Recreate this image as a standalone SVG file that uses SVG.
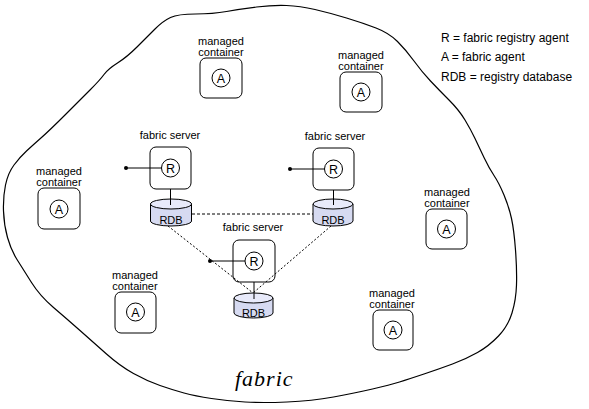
<svg xmlns="http://www.w3.org/2000/svg" width="589" height="409" viewBox="0 0 589 409">
<style>
.t{font-family:"Liberation Sans",Arial,sans-serif;font-size:11px;fill:#000;text-anchor:middle}
.lg{font-family:"Liberation Sans",Arial,sans-serif;font-size:12px;fill:#000}
.box{fill:none;stroke:#000;stroke-width:1}
.cir{fill:none;stroke:#000;stroke-width:1}
.ln{stroke:#000;stroke-width:1;fill:none}
.dash{stroke:#000;stroke-width:1;fill:none;stroke-dasharray:3,2}
.dot{stroke:#000;stroke-width:1;fill:none;stroke-dasharray:2,2}
.cyl{fill:#d6daf1;stroke:#000;stroke-width:1}
.cylt{fill:#e8eafa;stroke:#000;stroke-width:1}
.ct{font-family:"Liberation Sans",Arial,sans-serif;font-size:12.5px;fill:#000;text-anchor:middle}
</style>
<rect width="589" height="409" fill="#fff"/>
<g id="fabric">
<path fill="none" stroke="#000" stroke-width="1.2" d="M 41.5,137.5 Q 50,130 65,115 Q 80,100 90,90 Q 100,80 104,74.5 Q 108,69 117.5,63 Q 127,57 137,47 Q 147,37 155,29 Q 163,21 170.5,17.5 Q 178,14 195.5,14 Q 213,14 226.5,11.5 Q 240,9 256.5,7 Q 273,5 286.5,5.5 Q 300,6 315,9.5 Q 330,13 346.5,18 Q 363,23 376,28 Q 389,33 397.5,41.5 Q 406,50 414,61 Q 422,72 430.5,81 Q 439,90 449,100 Q 459,110 465,120 Q 471,130 475,138.5 Q 479,147 484,157.5 Q 489,168 494,175.5 Q 499,183 504,195 Q 509,207 511.5,218.5 Q 514,230 515.5,250 Q 517,270 516.5,285 Q 516,300 512,313 Q 508,326 498.5,336 Q 489,346 477.5,352.5 Q 466,359 452.5,364 Q 439,369 424,374 Q 409,379 399.5,382 Q 390,385 372.5,389 Q 355,393 333.5,397 Q 312,401 287,402 Q 262,403 245,402 Q 228,401 211.5,398.5 Q 195,396 184,393 Q 173,390 160,385.5 Q 147,381 133.5,373.5 Q 120,366 106.5,354 Q 93,342 80,330.5 Q 67,319 53.5,307.5 Q 40,296 31.5,282.5 Q 23,269 17,259.5 Q 11,250 7.5,237.5 Q 4,225 3.5,211 Q 3,197 5.5,185 Q 8,173 14,165 Q 20,157 26.5,151 Q 33,145 41.5,137.5 Z"/>
<text x="235" y="386" font-family="'Liberation Serif','Times New Roman',serif" font-style="italic" font-size="22" letter-spacing="1">fabric</text>
</g>
<g id="legend">
<text class="lg" x="441" y="42">R = fabric registry agent</text>
<text class="lg" x="441" y="61">A = fabric agent</text>
<text class="lg" x="441" y="81">RDB = registry database</text>
</g>
<g id="connectors">
<line class="dash" x1="192" y1="214" x2="313" y2="214"/>
<line class="dot" x1="168" y1="226" x2="253" y2="293"/>
<line class="dot" x1="331" y1="226" x2="253" y2="293"/>
<line class="ln" x1="126" y1="168" x2="161.5" y2="168"/>
<circle cx="126" cy="168" r="2" fill="#000"/>
<line class="ln" x1="290" y1="169" x2="324.5" y2="169"/>
<circle cx="290" cy="169" r="2" fill="#000"/>
<line class="ln" x1="210" y1="261" x2="245" y2="261"/>
<circle cx="210" cy="261" r="2" fill="#000"/>
<line class="ln" x1="170.5" y1="189" x2="170.5" y2="205"/>
<line class="ln" x1="333.5" y1="190" x2="333.5" y2="205"/>
<line class="ln" x1="254" y1="282" x2="254" y2="298"/>
</g>
<g id="container1">
<text class="t" x="221" y="45">managed</text>
<text class="t" x="221" y="56">container</text>
<rect class="box" x="200" y="58" width="42" height="40" rx="6"/>
<circle class="cir" cx="221" cy="78" r="9"/>
<text class="ct" x="221" y="82.5">A</text>
</g>
<g id="container2">
<text class="t" x="361" y="59">managed</text>
<text class="t" x="361" y="70">container</text>
<rect class="box" x="340" y="72" width="42" height="40" rx="6"/>
<circle class="cir" cx="361" cy="92" r="9"/>
<text class="ct" x="361" y="96.5">A</text>
</g>
<g id="container3">
<text class="t" x="59" y="175">managed</text>
<text class="t" x="59" y="186">container</text>
<rect class="box" x="38" y="188" width="42" height="41" rx="6"/>
<circle class="cir" cx="59" cy="209" r="9"/>
<text class="ct" x="59" y="213.5">A</text>
</g>
<g id="container4">
<text class="t" x="447" y="196">managed</text>
<text class="t" x="447" y="207">container</text>
<rect class="box" x="426" y="209" width="41" height="40" rx="6"/>
<circle class="cir" cx="446.5" cy="229" r="9"/>
<text class="ct" x="446.5" y="233.5">A</text>
</g>
<g id="container5">
<text class="t" x="135" y="279">managed</text>
<text class="t" x="135" y="290">container</text>
<rect class="box" x="115" y="292" width="41" height="41" rx="6"/>
<circle class="cir" cx="135.5" cy="312" r="9"/>
<text class="ct" x="135.5" y="316.5">A</text>
</g>
<g id="container6">
<text class="t" x="392" y="297">managed</text>
<text class="t" x="392" y="308">container</text>
<rect class="box" x="373" y="310" width="40" height="40" rx="6"/>
<circle class="cir" cx="393" cy="330" r="9"/>
<text class="ct" x="393" y="334.5">A</text>
</g>
<g id="server1">
<text class="t" x="170" y="139">fabric server</text>
<rect class="box" x="150" y="147" width="41" height="42" rx="6"/>
<circle class="cir" cx="170.5" cy="168" r="9"/>
<text class="ct" x="170.5" y="172.5">R</text>
</g>
<g id="server2">
<text class="t" x="335" y="140">fabric server</text>
<rect class="box" x="313" y="148" width="41" height="42" rx="6"/>
<circle class="cir" cx="333.5" cy="169" r="9"/>
<text class="ct" x="333.5" y="173.5">R</text>
</g>
<g id="server3">
<text class="t" x="253" y="231">fabric server</text>
<rect class="box" x="233" y="240" width="42" height="42" rx="6"/>
<circle class="cir" cx="254" cy="261" r="9"/>
<text class="ct" x="254" y="265.5">R</text>
</g>
<g id="rdb1">
<path class="cyl" d="M150.5,204 L150.5,221 A20.5,5 0 0 0 191.5,221 L191.5,204 Z"/>
<ellipse class="cylt" cx="171" cy="204" rx="20.5" ry="5"/>
<line class="ln" x1="170.5" y1="199" x2="170.5" y2="205"/>
<text class="t" x="171" y="223.5">RDB</text>
</g>
<g id="rdb2">
<path class="cyl" d="M313,204 L313,221 A20,5 0 0 0 353,221 L353,204 Z"/>
<ellipse class="cylt" cx="333" cy="204" rx="20" ry="5"/>
<line class="ln" x1="333.5" y1="199" x2="333.5" y2="205"/>
<text class="t" x="333" y="223.5">RDB</text>
</g>
<g id="rdb3">
<path class="cyl" d="M234,298 L234,313 A19.5,5 0 0 0 273,313 L273,298 Z"/>
<ellipse class="cylt" cx="253.5" cy="298" rx="19.5" ry="5"/>
<line class="ln" x1="254" y1="293" x2="254" y2="299"/>
<text class="t" x="253.5" y="316.5">RDB</text>
</g>
</svg>
